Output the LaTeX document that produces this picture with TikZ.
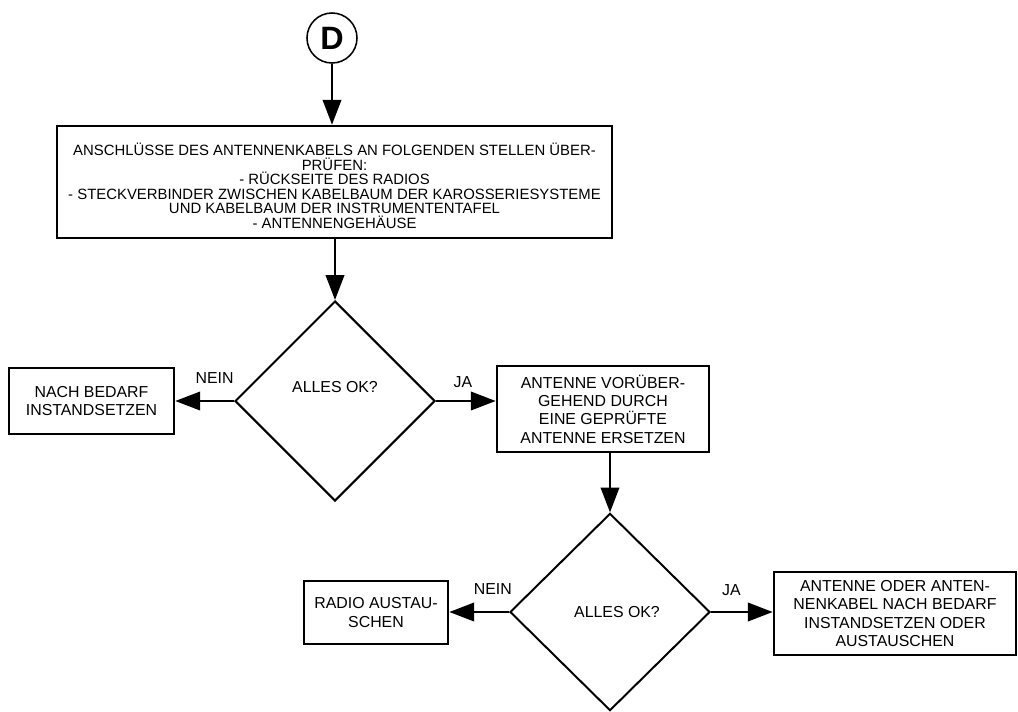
\documentclass[tikz,border=0pt]{standalone}
\usepackage{fontspec}
\setmainfont{Liberation Sans}
\usetikzlibrary{shapes.geometric,arrows.meta,positioning}

\begin{document}
\begin{tikzpicture}[x=0.025cm,y=-0.025cm,
    box/.style={draw,line width=1.8pt,align=center,inner sep=2pt,font=\fontsize{11.3}{13}\selectfont},
    decision/.style={draw,diamond,line width=1.4pt,minimum width=5cm,minimum height=5cm,inner sep=0pt},
    arr/.style={line width=1.6pt,-{Triangle[length=0.62cm,width=0.46cm]}},
    lbl/.style={font=\fontsize{11.3}{13}\selectfont}]
    \useasboundingbox (0,0) rectangle (1018,711);

    % start: connector D
    \node[draw,circle,line width=1.1pt,minimum size=1.25cm,inner sep=0pt,font=\fontsize{23}{23}\selectfont\bfseries] (D) at (332,38) {D};

    % check connections
    \node[box,minimum width=13.875cm,minimum height=2.8cm,font=\fontsize{10.6}{10.3}\selectfont] (check) at (334.5,182)
        {\rule{0pt}{0.5cm}ANSCHLÜSSE DES ANTENNENKABELS AN FOLGENDEN STELLEN ÜBER-\\PRÜFEN:\\- RÜCKSEITE DES RADIOS\\- STECKVERBINDER ZWISCHEN KABELBAUM DER KAROSSERIESYSTEME\\UND KABELBAUM DER INSTRUMENTENTAFEL\\- ANTENNENGEHÄUSE};
    \draw[arr] (D) -- (D |- check.north);

    % first decision
    \node[decision,label={[lbl,yshift=0.35cm]center:ALLES OK?}] (ok1) at (335,401) {};
    \draw[arr] (ok1.north |- check.south) -- (ok1.north);

    \node[box,minimum width=4.125cm,minimum height=1.65cm] (repair) at (91.5,401) {NACH BEDARF\\INSTANDSETZEN};
    \draw[arr] (ok1.west) -- node[lbl,pos=0.33,yshift=0.575cm] {NEIN} (ok1.west -| repair.east);

    \node[box,minimum width=5.3cm,minimum height=2.15cm] (swap) at (603,409) {ANTENNE VORÜBER-\\GEHEND DURCH\\EINE GEPRÜFTE\\ANTENNE ERSETZEN};
    \draw[arr] (ok1.east) -- node[lbl,pos=0.45,yshift=0.475cm] {JA} (ok1.east -| swap.west);

    % second decision
    \node[decision,minimum height=4.93cm,label={[lbl,xshift=0.175cm]center:ALLES OK?}] (ok2) at (610,612) {};
    \draw[arr] (ok2.north |- swap.south) -- (ok2.north);

    \node[box,minimum width=3.6cm,minimum height=1.575cm] (radio) at (376,612.5) {RADIO AUSTAU-\\SCHEN};
    \draw[arr] (ok2.west) -- node[lbl,pos=0.27,yshift=0.575cm] {NEIN} (ok2.west -| radio.east);

    \node[box,minimum width=6.05cm,minimum height=2.075cm] (antfix) at (895,613.5) {ANTENNE ODER ANTEN-\\NENKABEL NACH BEDARF\\INSTANDSETZEN ODER\\AUSTAUSCHEN};
    \draw[arr] (ok2.east) -- node[lbl,pos=0.33,yshift=0.55cm] {JA} (ok2.east -| antfix.west);
\end{tikzpicture}
\end{document}
